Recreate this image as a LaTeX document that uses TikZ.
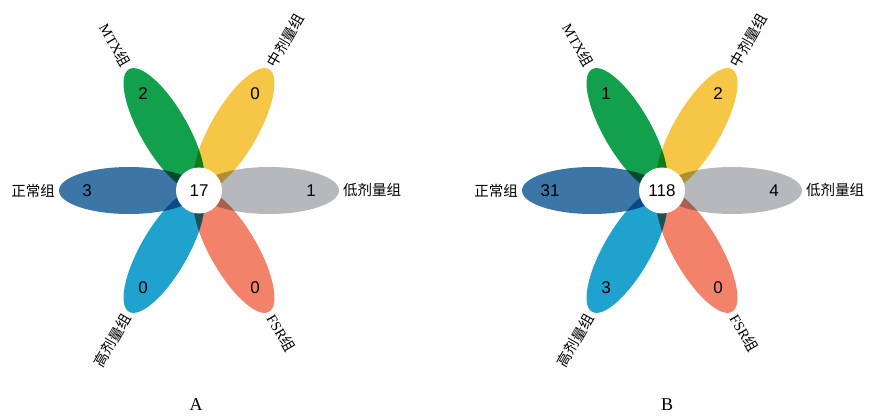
\documentclass[tikz,border=0pt]{standalone}
\usepackage{fontspec}
\setmainfont{Liberation Serif}
\setsansfont{Liberation Sans}
\newfontfamily\cjkfont{Noto Sans CJK SC}
\usetikzlibrary{shapes.geometric,calc}
\definecolor{pgray}{HTML}{B6B9BC}
\definecolor{pyellow}{HTML}{F6C646}
\definecolor{pgreen}{HTML}{12A04C}
\definecolor{pblue}{HTML}{3B76A6}
\definecolor{plight}{HTML}{1FA2CD}
\definecolor{psalmon}{HTML}{F2826A}
\tikzset{
  petal/.style={ellipse, minimum width=140pt, minimum height=47pt, inner sep=0pt, draw=none, fill=#1},
  num/.style={font=\sffamily\fontsize{17}{17}\selectfont, inner sep=0pt},
  grp/.style={font=\fontsize{14.5}{14.5}\selectfont, inner sep=0pt},
  ctr/.style={circle, fill=white, minimum size=46pt, inner sep=0pt, font=\sffamily\fontsize{17}{17}\selectfont},
  captext/.style={font=\fontsize{18}{18}\selectfont, inner sep=0pt}
}
\begin{document}
\begin{tikzpicture}[x=1pt,y=1pt]
\path[use as bounding box, fill=white] (0,0) rectangle (872,418);
\coordinate (A) at (199,227.5);
\coordinate (B) at (662,227.5);
% petals
\begin{scope}[blend group=multiply]
\foreach \ang/\col/\k in {0/pgray/1,60/pyellow/2,120/pgreen/3,180/pblue/4,240/plight/5,300/psalmon/6}{
  \node[petal=\col, rotate=\ang] (A-p\k) at ($(A)+(\ang:70)$) {};
  \node[petal=\col, rotate=\ang] (B-p\k) at ($(B)+(\ang:70)$) {};
}
\end{scope}
\path (A) node[ctr] (A-c) {17};
\path (B) node[ctr] (B-c) {118};
% numbers
\foreach \ang/\na/\nb/\k in {0/1/4/1,60/0/2/2,120/2/1/3,180/3/31/4,240/0/3/5,300/0/0/6}{
  \node[num] (A-n\k) at ($(A)+(\ang:112)$) {\na};
  \node[num] (B-n\k) at ($(B)+(\ang:112)$) {\nb};
}
% labels
\foreach \ang/\rot/\anc/\lab/\k in {0/0/west/{\cjkfont 低剂量组}/1,60/60/west/{\cjkfont 中剂量组}/2,120/-60/east/{MTX{\cjkfont 组}}/3,180/0/east/{\cjkfont 正常组}/4,240/60/east/{\cjkfont 高剂量组}/5,300/-60/west/{FSR{\cjkfont 组}}/6}{
  \node[grp, rotate=\rot, anchor=\anc] (A-l\k) at ($(A)+(\ang:144)$) {\lab};
  \node[grp, rotate=\rot, anchor=\anc] (B-l\k) at ($(B)+(\ang:144)$) {\lab};
}
\node[captext] (capA) at (196,13) {A};
\node[captext] (capB) at (667,13) {B};
\end{tikzpicture}
\end{document}
